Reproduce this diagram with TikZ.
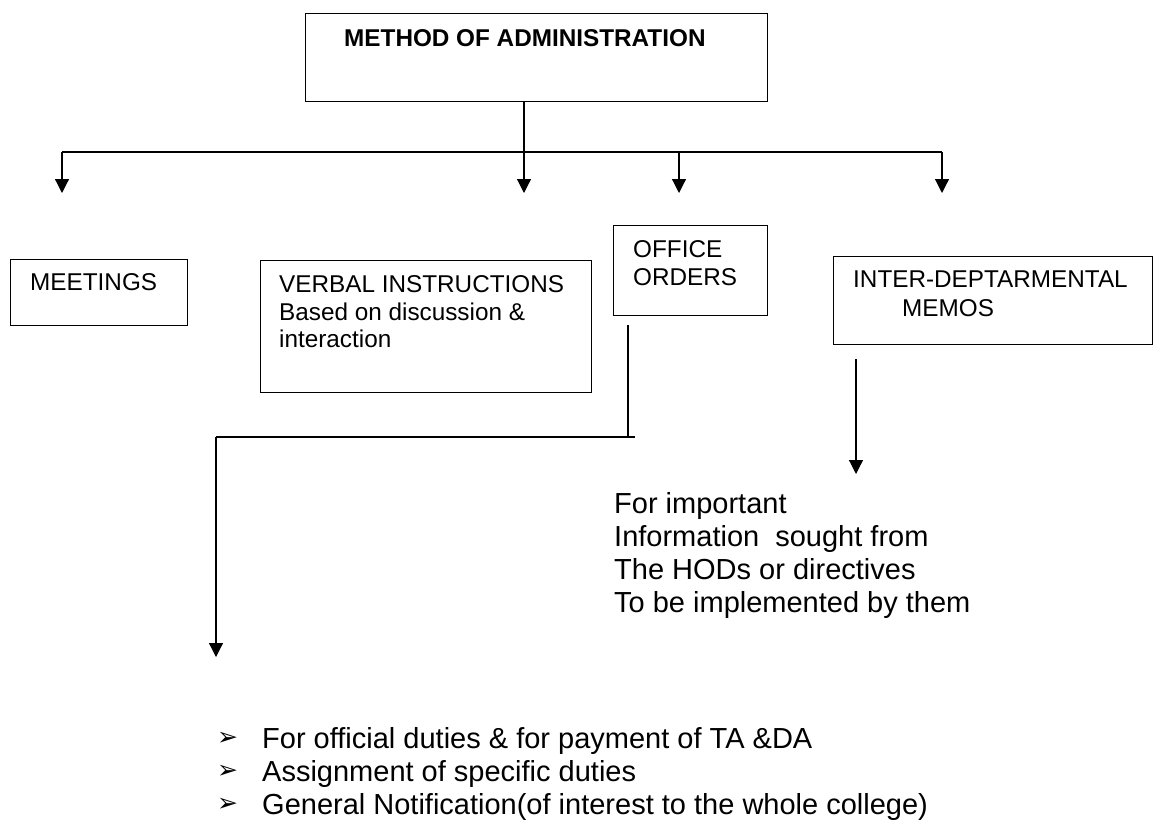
\documentclass[tikz,border=0pt]{standalone}
\usepackage{fontspec}
\setmainfont{Liberation Sans}
\newfontfamily\djv{DejaVu Sans}
\usetikzlibrary{arrows.meta}
\begin{document}
\begin{tikzpicture}[x=1pt,y=-1pt,
  frame/.style={draw, line width=1.4pt, inner sep=0pt, anchor=north west},
  lbl/.style={anchor=base west, inner sep=0pt, font=\fontsize{24.3}{28}\selectfont},
  big/.style={anchor=base west, inner sep=0pt, font=\fontsize{29}{33}\selectfont},
  bul/.style={anchor=base west, inner sep=0pt, font=\djv\fontsize{25}{28}\selectfont},
  conn/.style={line width=1.2pt},
  arr/.style={conn, -{Triangle[width=14pt,length=14pt]}}]
\useasboundingbox (0,0) rectangle (1153,820);
% boxes
\node[frame, minimum width=462pt, minimum height=88pt] (top) at (305,13) {};
\node[frame, minimum width=177pt, minimum height=66pt] (meet) at (10,259) {};
\node[frame, minimum width=331pt, minimum height=132pt] (verb) at (260,260) {};
\node[frame, minimum width=154pt, minimum height=90pt] (office) at (613,225) {};
\node[frame, minimum width=319pt, minimum height=88pt] (inter) at (833,256) {};
% box texts
\node[lbl, font=\bfseries\fontsize{24.3}{28}\selectfont] (ttop) at (344,46) {METHOD OF ADMINISTRATION};
\node[lbl] (tmeet) at (30,290) {MEETINGS};
\node[lbl] (tverb1) at (279,292) {VERBAL INSTRUCTIONS};
\node[lbl] (tverb2) at (279,320) {Based on discussion \&};
\node[lbl] (tverb3) at (279,347) {interaction};
\node[lbl] (toff1) at (633,257) {OFFICE};
\node[lbl] (toff2) at (633,285) {ORDERS};
\node[lbl] (tint1) at (853,287) {INTER-DEPTARMENTAL};
\node[lbl] (tint2) at (902,316) {MEMOS};
% memo text
\node[big] (m1) at (614,513) {For important};
\node[big] (m2) at (614,546) {Information\ \ sought from};
\node[big] (m3) at (614,579) {The HODs or directives};
\node[big] (m4) at (614,612) {To be implemented by them};
% office order list
\node[bul] (b1) at (217,745) {➢};
\node[bul] (b2) at (217,778) {➢};
\node[bul] (b3) at (217,811) {➢};
\node[big] (l1) at (262,748) {For official duties \& for payment of TA \&DA};
\node[big] (l2) at (262,781) {Assignment of specific duties};
\node[big] (l3) at (262,814) {General Notification(of interest to the whole college)};
% connectors
\coordinate (hL) at (62,152);
\coordinate (hM) at (524,152);
\coordinate (hO) at (679,152);
\coordinate (hR) at (942,152);
\coordinate (t1) at (62,193);
\coordinate (t2) at (524,193);
\coordinate (t3) at (679,193);
\coordinate (t4) at (942,193);
\draw[conn] (hL) -- (hR);
\draw[arr] (top.south -| hM) -- (t2);
\draw[arr] (hL) -- (t1);
\draw[arr] (hO) -- (t3);
\draw[arr] (hR) -- (t4);
\coordinate (os) at (628,325);
\coordinate (oc) at (628,437);
\coordinate (oe) at (635,437);
\coordinate (ol) at (216,437);
\coordinate (ot) at (216,657);
\draw[conn] (os) -- (oc);
\draw[conn] (oe) -- (ol);
\draw[arr] (ol) -- (ot);
\coordinate (is) at (856,359);
\coordinate (it) at (856,474);
\draw[arr] (is) -- (it);
\end{tikzpicture}
\end{document}
